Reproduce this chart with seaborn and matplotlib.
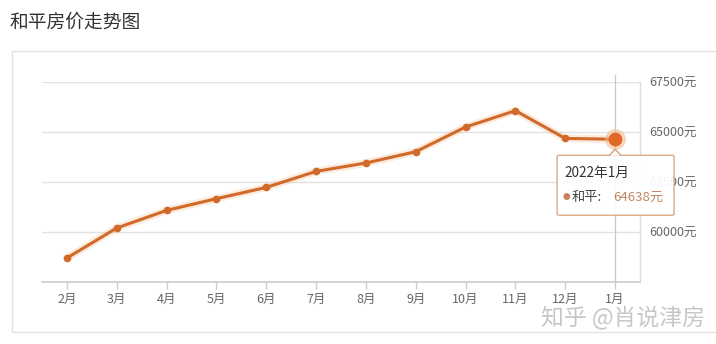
import matplotlib
matplotlib.use("Agg")
import matplotlib.pyplot as plt
import seaborn as sns
import pandas as pd
from matplotlib.patches import Rectangle, FancyBboxPatch, Polygon

months = ["2月", "3月", "4月", "5月", "6月", "7月", "8月", "9月", "10月", "11月", "12月", "1月"]
prices = [58700, 60200, 61080, 61665, 62230, 63030, 63450, 64015, 65250, 66065, 64680, 64638]
y_ticks = [60000, 62500, 65000, 67500]
y_labels = ["60000元", "62500元", "65000元", "67500元"]
series_name = "和平"
title = "和平房价走势图"
tooltip_title = "2022年1月"
watermark = "知乎 @肖说津房"

sns.set_theme(style="white")
plt.rcParams['font.family'] = ['Noto Sans CJK SC', 'DejaVu Sans']

W, H = 716, 344
fig = plt.figure(figsize=(W / 100, H / 100), dpi=100)
fig.patch.set_facecolor("white")

def fx(px):
    return px / W

def fy(py):
    return 1 - py / H

# outer frame
fig.patches.append(Rectangle((fx(11.5), fy(332)), fx(716) - fx(11.5) + 0.01, fy(51) - fy(332),
                             transform=fig.transFigure, fill=False, edgecolor="#e3e3e3", lw=1.0))
fig.text(fx(10), fy(22), title, fontsize=13.5, color="#333333", va="center", ha="left")

ax = fig.add_axes([fx(42), fy(282), fx(640) - fx(42), fy(82) - fy(282)])
df = pd.DataFrame({"month": months, "price": prices, "idx": range(len(months))})

line_color = "#d06a2a"
# glow
sns.lineplot(data=df, x="idx", y="price", ax=ax, color="#f5a060", lw=5.5, alpha=0.22, zorder=2)
sns.lineplot(data=df, x="idx", y="price", ax=ax, color=line_color, lw=2.2, marker="o",
             markersize=5.5, markeredgewidth=0, zorder=3)
last = df.iloc[-1]
ax.plot([last["idx"]], [last["price"]], "o", color="#f7b88a", markersize=14, alpha=0.5, zorder=4)
ax.plot([last["idx"]], [last["price"]], "o", color="#e0692a", markersize=9, zorder=5)

ax.set_xlim(-0.5, len(months) - 0.5)
ax.set_ylim(57500, 67500)
ax.set_xticks(range(len(months)))
ax.set_xticklabels(months)
ax.set_yticks(y_ticks)
ax.set_yticklabels(y_labels)
ax.yaxis.tick_right()
ax.set_xlabel("")
ax.set_ylabel("")
for v in y_ticks:
    ax.axhline(v, color="#e2e2e2", lw=1.0, zorder=1)

for s in ["top", "left"]:
    ax.spines[s].set_visible(False)
ax.spines["right"].set_color("#dddddd")
ax.spines["right"].set_linewidth(1.0)
ax.spines["bottom"].set_color("#cccccc")
ax.spines["bottom"].set_linewidth(1.2)
ax.tick_params(axis="x", bottom=True, length=5, width=1, color="#cccccc", labelsize=9,
               labelcolor="#666666", pad=3)
ax.tick_params(axis="y", right=True, length=0, labelsize=9, labelcolor="#666666", pad=7)

# axis pointer
ax.axvline(last["idx"], ymin=0, ymax=1.035, color="#c8c8c8", lw=0.9, clip_on=False, zorder=2)

# tooltip anchored to the last point
fig.canvas.draw()
px, py = ax.transData.transform((last["idx"], last["price"]))
py_top = H - py  # pixel from top
bx0, bx1 = px - 58, px + 59
by0, by1 = py_top + 16, py_top + 76
box = FancyBboxPatch((fx(bx0), fy(by1)), fx(bx1) - fx(bx0), fy(by0) - fy(by1),
                     boxstyle="round,pad=0,rounding_size=0.004", transform=fig.transFigure,
                     facecolor="white", edgecolor="#d9a27c", lw=1.0, alpha=0.93, zorder=10)
fig.patches.append(box)
tri = Polygon([(fx(px - 6), fy(by0 + 0.5)), (fx(px), fy(by0 - 6)), (fx(px + 6), fy(by0 + 0.5))],
              closed=False, transform=fig.transFigure, facecolor="white", edgecolor="#d9a27c",
              lw=1.0, zorder=11)
fig.patches.append(tri)
fig.text(fx(bx0 + 7), fy(by0 + 18), tooltip_title, fontsize=9.8, color="#333333",
         va="center", ha="left", zorder=12)
fig.text(fx(bx0 + 6), fy(by0 + 42), "●", fontsize=5.5, color="#c9825a", va="center", ha="left", zorder=12)
fig.text(fx(bx0 + 15), fy(by0 + 42), series_name + ":", fontsize=9.5, color="#444444",
         va="center", ha="left", zorder=12)
fig.text(fx(bx0 + 56), fy(by0 + 42), f"{prices[-1]}元", fontsize=9.5, color="#bd8663",
         va="center", ha="left", zorder=12)

fig.text(fx(705), fy(318), watermark, fontsize=16.5, color="#bdbdbd", alpha=0.85,
         va="center", ha="right", zorder=12)

fig.savefig("out.png", dpi=100)
